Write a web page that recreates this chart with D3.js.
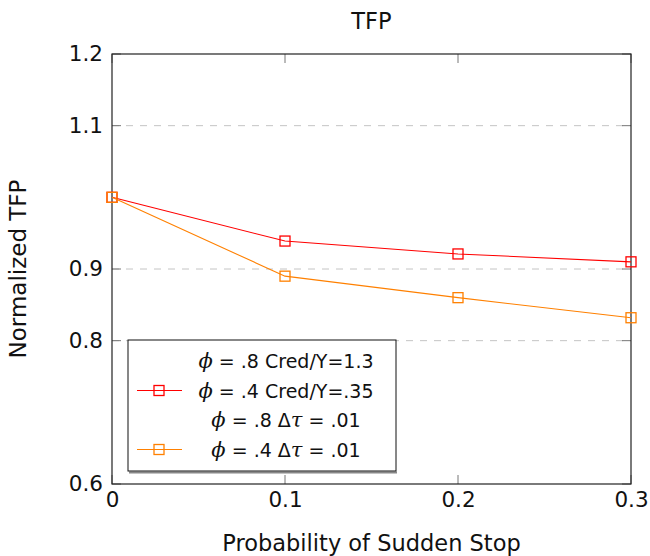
<!DOCTYPE html>
<html>
<head>
<meta charset="utf-8">
<script src="https://cdn.jsdelivr.net/npm/d3@7"></script>
<style>
  html, body { margin: 0; padding: 0; background: #fff; }
  svg { display: block; }
  text { font-family: "DejaVu Sans", "Open Sans", sans-serif; fill: #111; }
  .math { font-family: "DejaVu Serif", "Liberation Serif", serif; font-style: italic; }
</style>
</head>
<body>
<div id="chart"></div>
<script>
// Probability of a sudden stop on the x axis
const probabilities = [0, 0.1, 0.2, 0.3];
// Normalized TFP for the two visible calibrations
const tfpCredit = [1.0, 0.939, 0.921, 0.910];   // phi = .4, Cred/Y = .35
const tfpTax    = [1.0, 0.890, 0.860, 0.832];   // phi = .4, delta tau = .01

const xTicks = [0, 0.1, 0.2, 0.3];
const yTicks = [0.6, 0.8, 0.9, 1.1, 1.2];

// Legend rows: phi value, rest of label, colour or null for an empty swatch
const legendRows = [
  { phi: ".8", rest: " Cred/Y=1.3", mathRest: false, color: null },
  { phi: ".4", rest: " Cred/Y=.35", mathRest: false, color: "#ff0000" },
  { phi: ".8", rest: "", mathRest: true, color: null },
  { phi: ".4", rest: "", mathRest: true, color: "#ff8000" }
];

const series = [
  { values: tfpCredit, color: "#ff0000" },
  { values: tfpTax, color: "#ff8000" }
];

const W = 650, H = 556;
const m = { left: 112, right: 19, top: 54, bottom: 72 };
const x0 = m.left, x1 = W - m.right, y0 = H - m.bottom, y1 = m.top;

const svg = d3.select("#chart").append("svg").attr("width", W).attr("height", H);

const x = d3.scaleLinear().domain([0, 0.3]).range([x0, x1]);
const y = d3.scaleLinear().domain([0.6, 1.2]).range([y0, y1]);

// dashed horizontal grid
svg.append("g").selectAll("line")
  .data(yTicks.filter(v => v > 0.6 && v < 1.2))
  .join("line")
  .attr("x1", x0).attr("x2", x1)
  .attr("y1", d => y(d)).attr("y2", d => y(d))
  .attr("stroke", "#c4c4c4").attr("stroke-width", 1)
  .attr("stroke-dasharray", "7,7");

// inward ticks on all four sides
const tickG = svg.append("g").attr("stroke", "#777").attr("stroke-width", 1);
xTicks.forEach(v => {
  tickG.append("line").attr("x1", x(v)).attr("x2", x(v)).attr("y1", y0).attr("y2", y0 - 9);
  tickG.append("line").attr("x1", x(v)).attr("x2", x(v)).attr("y1", y1).attr("y2", y1 + 9);
});
yTicks.forEach(v => {
  tickG.append("line").attr("x1", x0).attr("x2", x0 + 9).attr("y1", y(v)).attr("y2", y(v));
  tickG.append("line").attr("x1", x1).attr("x2", x1 - 9).attr("y1", y(v)).attr("y2", y(v));
});

// tick labels via d3 axes
const yAxis = d3.axisLeft(y).tickValues(yTicks).tickFormat(d3.format(".1f")).tickSize(0).tickPadding(9);
const gy = svg.append("g").attr("transform", `translate(${x0},0)`).call(yAxis);
gy.select(".domain").remove();
gy.selectAll("text").style("font-size", "21.5px").attr("fill", "#111");

const xAxis = d3.axisBottom(x).tickValues(xTicks).tickFormat(d => d === 0 ? "0" : d3.format(".1f")(d)).tickSize(0).tickPadding(8);
const gx = svg.append("g").attr("transform", `translate(0,${y0})`).call(xAxis);
gx.select(".domain").remove();
gx.selectAll("text").style("font-size", "21.5px").attr("fill", "#111");

// frame
svg.append("rect").attr("x", x0).attr("y", y1).attr("width", x1 - x0).attr("height", y0 - y1)
  .attr("fill", "none").attr("stroke", "#222").attr("stroke-width", 1.2);

// series lines and square markers
const line = d3.line().x((d, i) => x(probabilities[i])).y(d => y(d));
series.forEach(s => {
  svg.append("path").datum(s.values).attr("d", line)
    .attr("fill", "none").attr("stroke", s.color).attr("stroke-width", 1.1);
  svg.append("g").selectAll("rect").data(s.values).join("rect")
    .attr("x", (d, i) => x(probabilities[i]) - 5)
    .attr("y", d => y(d) - 5)
    .attr("width", 10).attr("height", 10)
    .attr("fill", "none").attr("stroke", s.color).attr("stroke-width", 1.3);
});

// titles
svg.append("text").attr("x", (x0 + x1) / 2).attr("y", 29).attr("text-anchor", "middle")
  .style("font-size", "22.5px").text("TFP");
svg.append("text").attr("x", (x0 + x1) / 2).attr("y", 551).attr("text-anchor", "middle")
  .style("font-size", "22.5px").text("Probability of Sudden Stop");
svg.append("text").attr("transform", `translate(26,${(y0 + y1) / 2}) rotate(-90)`)
  .attr("text-anchor", "middle").style("font-size", "23px").text("Normalized TFP");

// legend
const lg = { x: 128, y: 340, w: 268, h: 131, row: 29.5 };
svg.append("line").attr("x1", lg.x + 1).attr("x2", lg.x + lg.w + 1)
  .attr("y1", lg.y + lg.h + 1.5).attr("y2", lg.y + lg.h + 1.5)
  .attr("stroke", "#888").attr("stroke-width", 2);
svg.append("rect").attr("x", lg.x).attr("y", lg.y).attr("width", lg.w).attr("height", lg.h)
  .attr("fill", "#fff").attr("stroke", "#111").attr("stroke-width", 1);

legendRows.forEach((r, i) => {
  const cy = lg.y + 21 + i * lg.row;
  if (r.color) {
    svg.append("line").attr("x1", lg.x + 9).attr("x2", lg.x + 54).attr("y1", cy).attr("y2", cy)
      .attr("stroke", r.color).attr("stroke-width", 1);
    svg.append("rect").attr("x", lg.x + 26).attr("y", cy - 5).attr("width", 10).attr("height", 10)
      .attr("fill", "none").attr("stroke", r.color).attr("stroke-width", 1.3);
  }
  const t = svg.append("text").attr("x", 286).attr("y", cy + 7).attr("text-anchor", "middle")
    .style("font-size", "19px").attr("xml:space", "preserve");
  t.append("tspan").attr("class", "math").style("font-size", "21px").text("\u03D5");
  t.append("tspan").text(" = " + r.phi);
  if (r.mathRest) {
    t.append("tspan").text(" \u0394");
    t.append("tspan").attr("class", "math").style("font-size", "21px").text("\u03C4");
    t.append("tspan").text(" = .01");
  } else {
    t.append("tspan").text(r.rest);
  }
});
</script>
</body>
</html>
